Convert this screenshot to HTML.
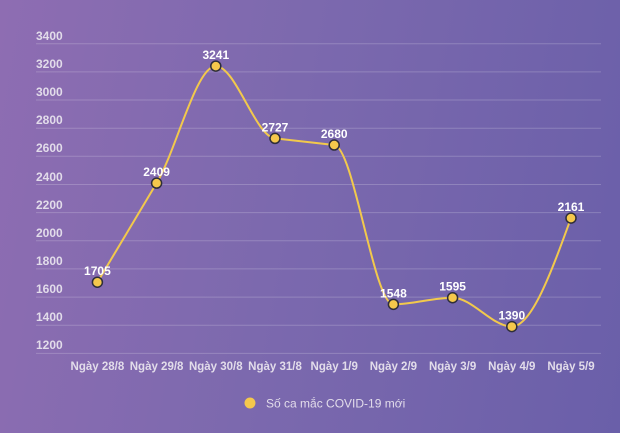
<!DOCTYPE html>
<html><head><meta charset="utf-8"><style>
html,body{margin:0;padding:0}
body{width:620px;height:433px;overflow:hidden;background:linear-gradient(100deg,#8e6db2 0%,#7c69ae 45%,#6a5fa9 100%);font-family:"Liberation Sans",sans-serif}
svg{display:block}
</style></head><body>
<svg width="620" height="433" viewBox="0 0 620 433">
<g stroke="#ffffff" stroke-opacity="0.2" stroke-width="1">
<line x1="36" x2="601" y1="43.7" y2="43.7"/><line x1="36" x2="601" y1="71.9" y2="71.9"/><line x1="36" x2="601" y1="100" y2="100"/><line x1="36" x2="601" y1="128.2" y2="128.2"/><line x1="36" x2="601" y1="156.3" y2="156.3"/><line x1="36" x2="601" y1="184.5" y2="184.5"/><line x1="36" x2="601" y1="212.6" y2="212.6"/><line x1="36" x2="601" y1="240.8" y2="240.8"/><line x1="36" x2="601" y1="268.9" y2="268.9"/><line x1="36" x2="601" y1="297.1" y2="297.1"/><line x1="36" x2="601" y1="325.2" y2="325.2"/><line x1="36" x2="601" y1="353.4" y2="353.4"/>
</g>
<g fill="#e2dcea" font-size="12" font-weight="bold">
<text x="36" y="40">3400</text><text x="36" y="68">3200</text><text x="36" y="96">3000</text><text x="36" y="124">2800</text><text x="36" y="152">2600</text><text x="36" y="181">2400</text><text x="36" y="209">2200</text><text x="36" y="237">2000</text><text x="36" y="265">1800</text><text x="36" y="293">1600</text><text x="36" y="321">1400</text><text x="36" y="349">1200</text>
</g>
<g fill="#e2dcea" font-size="11.5" font-weight="bold" text-anchor="middle">
<text x="97.4" y="370">Ngày 28/8</text><text x="156.6" y="370">Ngày 29/8</text><text x="215.8" y="370">Ngày 30/8</text><text x="275" y="370">Ngày 31/8</text><text x="334.2" y="370">Ngày 1/9</text><text x="393.4" y="370">Ngày 2/9</text><text x="452.6" y="370">Ngày 3/9</text><text x="511.8" y="370">Ngày 4/9</text><text x="571" y="370">Ngày 5/9</text>
</g>
<path id="c" fill="none" stroke="#f2c94c" stroke-width="2" d=""/>
<g id="pts"></g>
<circle cx="250" cy="403" r="5.5" fill="#f5c84c"/>
<text x="266" y="407.5" fill="#e2dcea" font-size="12">Số ca mắc COVID-19 mới</text>
</svg>
<script>
var v=[1705,2409,3241,2727,2680,1548,1595,1390,2161];
var P=v.map(function(d,i){return [97.4+i*59.2,43.7+(3400-d)*0.14073];});
var n=P.length,h=59.2,s=[],m=[];
for(var i=0;i<n-1;i++)s.push((P[i+1][1]-P[i][1])/h);
for(var i=0;i<n;i++){
 if(i==0)m.push(s[0]);else if(i==n-1)m.push(s[n-2]);
 else{var a=s[i-1],b=s[i];m.push(a*b<=0?0:(Math.sign(a)*Math.min(Math.abs(a),Math.abs(b),0.5*Math.abs(a+b))*1.0));}
}
m[0]=(3*s[0]-m[1])/2;m[n-1]=(3*s[n-2]-m[n-2])/2;
var d="M"+P[0];
for(var i=0;i<n-1;i++){var dx=h/3;
d+=" C"+(P[i][0]+dx)+","+(P[i][1]+m[i]*dx)+" "+(P[i+1][0]-dx)+","+(P[i+1][1]-m[i+1]*dx)+" "+P[i+1];}
document.getElementById("c").setAttribute("d",d);
var q="";P.forEach(function(p,i){q+='<circle cx="'+p[0]+'" cy="'+p[1]+'" r="5" fill="#f5c84c" stroke="#2e2e3a" stroke-width="1.5"/><text x="'+p[0]+'" y="'+(p[1]-7)+'" fill="#fff" font-size="12" font-weight="bold" text-anchor="middle">'+v[i]+'</text>';});
document.getElementById("pts").innerHTML=q;
</script>
</body></html>
